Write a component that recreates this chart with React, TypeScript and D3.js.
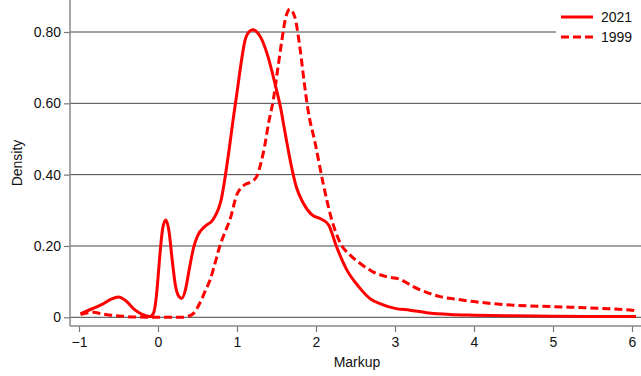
import { useEffect, useRef } from 'react';
import * as d3 from 'd3';

// Kernel density readings (markup value, density)
const MARKUP_2021 = [
  -0.98, -0.9, -0.8, -0.7, -0.6, -0.5, -0.4, -0.3, -0.2, -0.1, -0.06, -0.02, 0.0, 0.03, 0.06, 0.1,
  0.14, 0.18, 0.22, 0.26, 0.3, 0.35, 0.4, 0.45, 0.5, 0.6, 0.7, 0.8, 0.9, 0.95, 1.0, 1.05, 1.1,
  1.15, 1.2, 1.3, 1.38, 1.48, 1.55, 1.61, 1.69, 1.75, 1.84, 1.95, 2.07, 2.16, 2.26, 2.39, 2.54,
  2.68, 2.85, 3.0, 3.19, 3.4, 3.7, 4.0, 4.5, 5.0, 5.5, 6.05,
];
const DENSITY_2021 = [
  0.01, 0.018, 0.027, 0.037, 0.05, 0.057, 0.045, 0.022, 0.008, 0.002, 0.01, 0.06, 0.11, 0.19, 0.25,
  0.273, 0.24, 0.16, 0.09, 0.06, 0.053, 0.08, 0.14, 0.195, 0.228, 0.256, 0.275, 0.33, 0.47, 0.553,
  0.63, 0.71, 0.775, 0.8, 0.806, 0.785, 0.74, 0.656, 0.59, 0.516, 0.422, 0.366, 0.32, 0.287, 0.275,
  0.259, 0.198, 0.133, 0.086, 0.053, 0.035, 0.025, 0.02, 0.013, 0.008, 0.006, 0.004, 0.003, 0.002,
  0.002,
];

const MARKUP_1999 = [
  -0.98, -0.9, -0.82, -0.7, -0.6, -0.45, -0.3, 0.0, 0.3, 0.38, 0.45, 0.53, 0.6, 0.66, 0.72, 0.78,
  0.85, 0.91, 1.0, 1.04, 1.1, 1.18, 1.25, 1.3, 1.35, 1.4, 1.46, 1.52, 1.57, 1.61, 1.67, 1.73, 1.8,
  1.85, 1.9, 1.99, 2.09, 2.2, 2.31, 2.43, 2.56, 2.7, 2.89, 3.06, 3.23, 3.4, 3.57, 3.8, 4.0, 4.5,
  5.0, 5.6, 6.02, 6.05,
];
const DENSITY_1999 = [
  0.008, 0.012, 0.014, 0.009, 0.006, 0.003, 0.001, 0.0, 0.0, 0.003, 0.011, 0.04, 0.075, 0.105,
  0.15, 0.198, 0.24, 0.273, 0.345, 0.36, 0.372, 0.38, 0.395, 0.43, 0.48, 0.545, 0.61, 0.703, 0.78,
  0.834, 0.864, 0.843, 0.75, 0.66, 0.58, 0.488, 0.376, 0.273, 0.207, 0.175, 0.151, 0.13, 0.114,
  0.107, 0.086, 0.07, 0.058, 0.05, 0.044, 0.034, 0.03, 0.025, 0.019, 0.015,
];

const X_TICKS = [-1, 0, 1, 2, 3, 4, 5, 6];
const Y_TICKS = [0, 0.2, 0.4, 0.6, 0.8];
const SERIES = ['2021', '1999'];

const WIDTH = 641;
const HEIGHT = 376;
const RED = '#ff0000';
const FONT = '"Liberation Sans", Arial, sans-serif';

export default function App() {
  const svgRef = useRef<SVGSVGElement>(null);

  useEffect(() => {
    document.body.style.margin = '0';
    if (!svgRef.current) return;
    const svg = d3.select(svgRef.current);
    svg.selectAll('*').remove();

    const axisX = 70;
    const axisY = 326;

    const x = d3.scaleLinear().domain([-1, 6]).range([79, 632]);
    const y = d3.scaleLinear().domain([0, 0.8]).range([317.3, 32]);

    svg.append('rect').attr('width', WIDTH).attr('height', HEIGHT).attr('fill', '#fff');

    // Grid lines
    svg
      .append('g')
      .selectAll('line')
      .data(Y_TICKS)
      .enter()
      .append('line')
      .attr('x1', axisX)
      .attr('x2', WIDTH)
      .attr('y1', (d) => y(d))
      .attr('y2', (d) => y(d))
      .attr('stroke', '#444')
      .attr('stroke-width', 1);

    // Y axis
    const yAxis = svg
      .append('g')
      .attr('transform', `translate(${axisX},0)`)
      .call(
        d3
          .axisLeft(y)
          .tickValues(Y_TICKS)
          .tickSize(6)
          .tickPadding(3)
          .tickFormat((d) => (d === 0 ? '0' : d3.format('.2f')(d as number)))
      );
    yAxis.select('.domain').remove();
    yAxis.append('line').attr('x1', 0).attr('x2', 0).attr('y1', 0).attr('y2', axisY).attr('stroke', '#888').attr('stroke-width', 1.5);

    // X axis
    const xAxis = svg
      .append('g')
      .attr('transform', `translate(0,${axisY})`)
      .call(d3.axisBottom(x).tickValues(X_TICKS).tickSize(6).tickPadding(5).tickFormat(d3.format('d')));
    xAxis.select('.domain').remove();
    xAxis.append('line').attr('x1', axisX).attr('x2', WIDTH).attr('y1', 0).attr('y2', 0).attr('stroke', '#888').attr('stroke-width', 1.5);

    svg.selectAll('.tick line').attr('stroke', '#777').attr('stroke-width', 1.2);
    svg
      .selectAll('.tick text')
      .attr('fill', '#111')
      .style('font-family', FONT)
      .style('font-size', '14px');

    // Axis titles
    svg
      .append('text')
      .attr('x', 357)
      .attr('y', 367)
      .attr('text-anchor', 'middle')
      .style('font-family', FONT)
      .style('font-size', '14px')
      .attr('fill', '#111')
      .text('Markup');
    svg
      .append('text')
      .attr('transform', 'translate(22,163) rotate(-90)')
      .attr('text-anchor', 'middle')
      .style('font-family', FONT)
      .style('font-size', '14px')
      .attr('fill', '#111')
      .text('Density');

    // Density curves
    const line = d3
      .line<[number, number]>()
      .x((d) => x(d[0]))
      .y((d) => y(d[1]))
      .curve(d3.curveMonotoneX);

    const series2021 = MARKUP_2021.map((m, i) => [m, DENSITY_2021[i]] as [number, number]);
    const series1999 = MARKUP_1999.map((m, i) => [m, DENSITY_1999[i]] as [number, number]);

    svg
      .append('path')
      .datum(series1999)
      .attr('d', line)
      .attr('fill', 'none')
      .attr('stroke', RED)
      .attr('stroke-width', 3)
      .attr('stroke-dasharray', '8 4');

    svg
      .append('path')
      .datum(series2021)
      .attr('d', line)
      .attr('fill', 'none')
      .attr('stroke', RED)
      .attr('stroke-width', 3);

    // Legend
    const legend = svg.append('g');
    legend.append('rect').attr('x', 556).attr('y', 0).attr('width', 90).attr('height', 50).attr('fill', '#fff');
    SERIES.forEach((name, index) => {
      const ly = 17 + index * 20;
      legend
        .append('line')
        .attr('x1', 561)
        .attr('x2', 593)
        .attr('y1', ly)
        .attr('y2', ly)
        .attr('stroke', RED)
        .attr('stroke-width', 3)
        .attr('stroke-dasharray', index === 1 ? '8 4' : null);
      legend
        .append('text')
        .attr('x', 601)
        .attr('y', ly)
        .attr('dy', '0.35em')
        .style('font-family', FONT)
        .style('font-size', '14px')
        .attr('fill', '#111')
        .text(name);
    });
  }, []);

  return <svg ref={svgRef} width={WIDTH} height={HEIGHT} style={{ display: 'block' }} />;
}
